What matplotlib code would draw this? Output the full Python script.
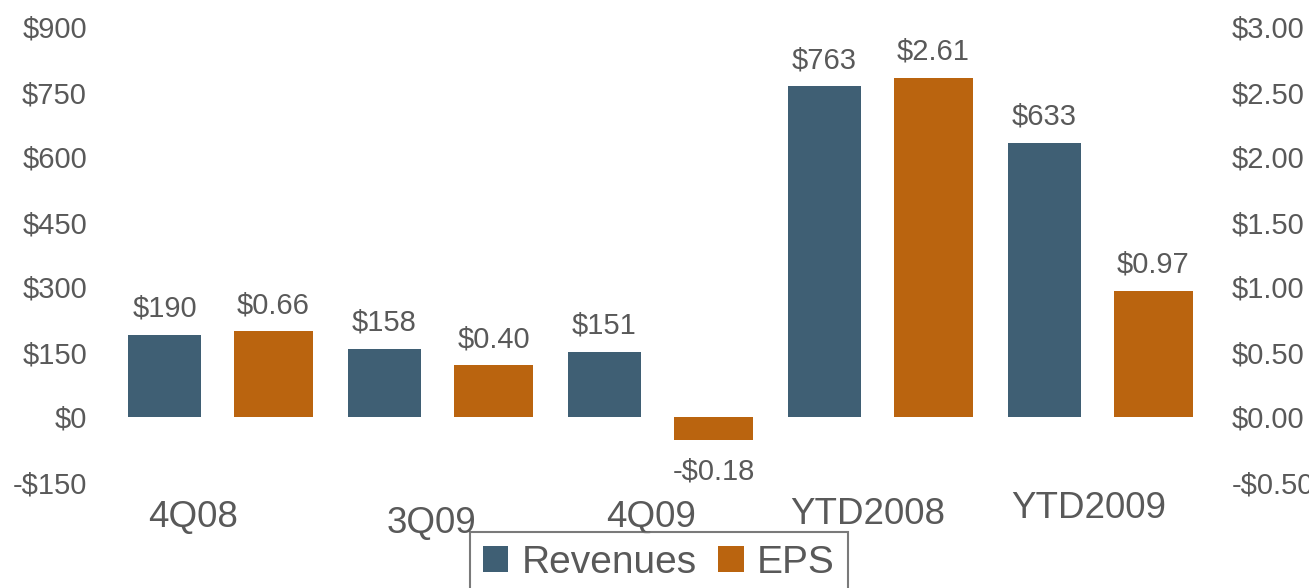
import matplotlib.pyplot as plt
import numpy as np

plt.rcParams['font.family'] = ['Liberation Sans', 'DejaVu Sans']

categories = ['4Q08', '3Q09', '4Q09', 'YTD2008', 'YTD2009']
revenues = [190, 158, 151, 763, 633]
eps = [0.66, 0.40, -0.18, 2.61, 0.97]
rev_labels = ['$190', '$158', '$151', '$763', '$633']
eps_labels = ['$0.66', '$0.40', '-$0.18', '$2.61', '$0.97']
left_ticks = [-150, 0, 150, 300, 450, 600, 750, 900]
right_ticks = [-0.5, 0.0, 0.5, 1.0, 1.5, 2.0, 2.5, 3.0]

BLUE = '#3F5F74'
ORANGE = '#BA640F'
GREY = '#595959'

W, H = 1309, 588
fig = plt.figure(figsize=(W / 100, H / 100), dpi=100)

# axes box in pixels: left 100, right 1220, top 27, bottom 482
ax = fig.add_axes([100 / W, 1 - 482 / H, 1120 / W, 455 / H])
ax2 = ax.twinx()

x = np.arange(len(categories))
off = 0.2477
ax.bar(x - off, revenues, width=0.332, color=BLUE)
ax2.bar(x + off, eps, width=0.359, color=ORANGE)

ax.set_xlim((100 - 219) / 220, (1220 - 219) / 220)
ax.set_ylim(-150, 900)
ax2.set_ylim(-0.5, 3.0)

ax.set_yticks(left_ticks)
ax.set_yticklabels([('-$%d' % -v) if v < 0 else ('$%d' % v) for v in left_ticks])
ax2.set_yticks(right_ticks)
ax2.set_yticklabels([('-$%.2f' % -v) if v < 0 else ('$%.2f' % v) for v in right_ticks])
ax.set_xticks([])

for a in (ax, ax2):
    for s in a.spines.values():
        s.set_visible(False)
ax.tick_params(axis='y', length=0, pad=9.4, labelsize=21, labelcolor=GREY)
ax2.tick_params(axis='y', length=0, pad=8.6, labelsize=21, labelcolor=GREY)

# value labels
for xi, v, t in zip(x, revenues, rev_labels):
    ax.annotate(t, (xi - off, v), xytext=(0, 18), textcoords='offset pixels',
                ha='center', va='baseline', fontsize=21, color=GREY)
for xi, v, t in zip(x, eps, eps_labels):
    dy = 18 if v >= 0 else -39
    ax2.annotate(t, (xi + off, v), xytext=(0, dy), textcoords='offset pixels',
                 ha='center', va='baseline', fontsize=21, color=GREY)

# category labels (slightly uneven placement as in the original slide)
nudge_x = [-0.116, -0.032, -0.036, -0.05, -0.045]
base_y = [-0.0989, -0.1121, -0.0989, -0.0923, -0.0791]
for xi, c, dx, by in zip(x, categories, nudge_x, base_y):
    ax.text(xi + dx, by, c, transform=ax.get_xaxis_transform(), ha='center',
            va='baseline', fontsize=26.5, color=GREY, clip_on=False)

leg = fig.legend(['Revenues', 'EPS'], loc='upper left',
                 bbox_to_anchor=(470 / W, 1 - 532 / H), ncol=2, fontsize=28,
                 frameon=True, fancybox=False, handlelength=0.65, handleheight=0.65,
                 handletextpad=0.35, columnspacing=0.55, borderpad=0.33,
                 labelcolor=GREY, borderaxespad=0)
leg.get_frame().set_edgecolor(GREY)
leg.get_frame().set_linewidth(1.5)

fig.savefig('out.png', dpi=100)
